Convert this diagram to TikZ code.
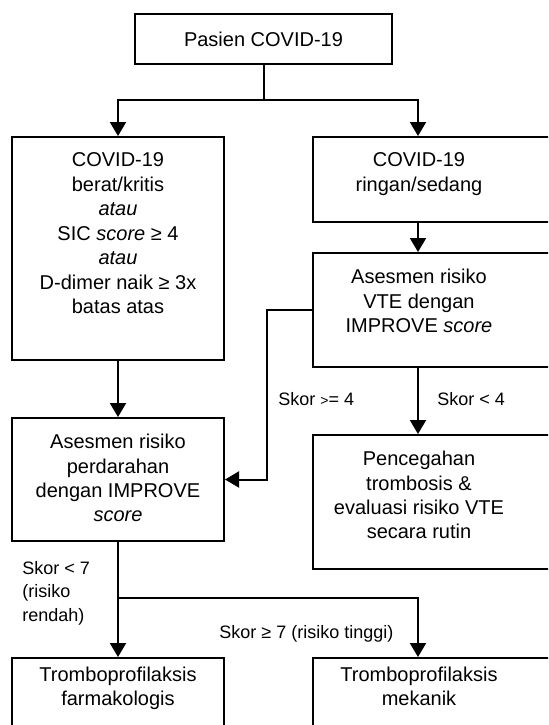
\documentclass[tikz,border=0pt]{standalone}
\usepackage{fontspec}
\setmainfont{Liberation Sans}
\usepackage{tikz}
\usetikzlibrary{arrows.meta}

\newcommand{\leftcell}[2]{\parbox[c][#1][t]{106pt}{\centering #2}}
\newcommand{\rightcell}[2]{\parbox[c][#1][t]{106pt}{\centering #2}\hspace*{18pt}}

\begin{document}
\begin{tikzpicture}[x=0.5pt, y=-0.5pt,
	box/.style={draw=black, line width=1pt, inner xsep=0pt, inner ysep=8pt, anchor=north west, font=\fontsize{10}{12.25}\selectfont},
	lowbox/.style={box, inner ysep=4.4pt},
	arr/.style={-{Triangle[width=8pt,length=7pt]}, line width=1pt},
	skor/.style={anchor=west, inner sep=0pt, align=left, font=\fontsize{9}{11.75}\selectfont}]
	
	\useasboundingbox (0,0) rectangle (548,725);
	\clip (0,0) rectangle (548,725);
	
	\node[draw=black, line width=1pt, minimum width=128.5pt, minimum height=25pt, font=\fontsize{10}{12.25}\selectfont] (pasien) at (263.5,39) {Pasien COVID-19};
	
	\node[box] (berat) at (11,136) {\leftcell{95.5pt}{COVID-19\\ berat/kritis\\ \textit{atau}\\ SIC \textit{score} ≥ 4\\ \textit{atau}\\ D-dimer naik ≥ 3x\\ batas atas}};
	\node[box] (ringan) at (312,136) {\rightcell{26.5pt}{COVID-19\\ ringan/sedang}};
	
	\node[box] (vte) at (312,252) {\rightcell{41pt}{Asesmen risiko\\ VTE dengan\\ IMPROVE \textit{score}}};
	\node[box] (perdarahan) at (11,417) {\leftcell{45.5pt}{Asesmen risiko\\ perdarahan\\ dengan IMPROVE\\ \textit{score}}};
	\node[box] (pencegahan) at (312,434) {\rightcell{51pt}{Pencegahan\\ trombosis \&\\ evaluasi risiko VTE\\ secara rutin}};
	
	\node[lowbox] (farmako) at (11,657) {\leftcell{60pt}{Tromboprofilaksis\\ farmakologis}};
	\node[lowbox] (mekanik) at (312,657) {\rightcell{60pt}{Tromboprofilaksis\\ mekanik}};
	
	\node[skor] (skorA) at (278,399) {Skor {\scriptsize >}= 4};
	\node[skor] (skorB) at (437,399) {Skor < 4};
	\node[skor] (skorC) at (22,593) {Skor < 7\\ (risiko\\ rendah)};
	\node[skor] (skorD) at (219,634) {Skor ≥ 7 (risiko tinggi)};
	
	\coordinate (cabang) at (263.5,100);
	\coordinate (cabang2) at (117,598);
	
	\draw[line width=1pt] (pasien) -- (cabang);
	\draw[arr] (cabang) -| (berat);
	\draw[arr] (cabang) -| ([xshift=53pt]ringan.north west);
	\draw[arr] ([xshift=53pt]ringan.south west) -- ([xshift=53pt]vte.north west);
	\draw[arr] (berat) -- (perdarahan);
	\draw[arr] (vte.west) -- ++(-45,0) |- (perdarahan.east);
	\draw[arr] ([xshift=53pt]vte.south west) -- ([xshift=53pt]pencegahan.north west);
	\draw[arr] (perdarahan) -- (farmako);
	\draw[arr] (cabang2) -| ([xshift=53pt]mekanik.north west);

\end{tikzpicture}
\end{document}
